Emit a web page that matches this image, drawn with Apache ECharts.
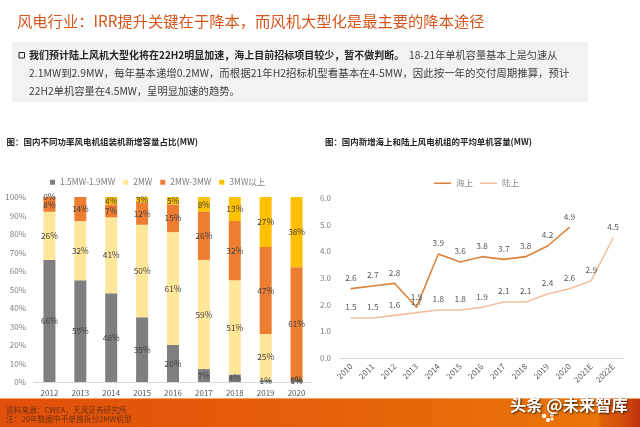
<!DOCTYPE html>
<html>
<head>
<meta charset="utf-8">
<style>html,body{margin:0;padding:0;background:#fff}#c{width:640px;height:427px}</style>
<script src="https://cdn.jsdelivr.net/npm/echarts@6/dist/echarts.min.js"></script>
</head>
<body>
<div id="c"></div>
<script>
// Installed capacity share by turbine class, percent
const shareYears = ['2012','2013','2014','2015','2016','2017','2018','2019','2020'];
const shareLabels = ['1.5MW-1.9MW','2MW','2MW-3MW','3MW以上'];
const class15to19 = [66,55,48,35,20,7,4,1,1];
const class2 = [26,32,41,50,61,59,51,25,0];
const class2to3 = [8,14,7,12,15,26,32,47,61];
const class3plus = [0,0,4,3,5,8,13,27,38];

// Average unit capacity, MW
const unitYears = ['2010','2011','2012','2013','2014','2015','2016','2017','2018','2019','2020','2021E','2022E'];
const offshore = [2.6,2.7,2.8,1.9,3.9,3.6,3.8,3.7,3.8,4.2,4.9,null,null];
const onshore = [1.5,1.5,1.6,1.7,1.8,1.8,1.9,2.1,2.1,2.4,2.6,2.9,4.5];

const headline = '风电行业：IRR提升关键在于降本，而风机大型化是最主要的降本途径';
const bodyLead = '我们预计陆上风机大型化将在22H2明显加速，海上目前招标项目较少，暂不做判断。';
const bodyLines = ['18-21年单机容量基本上是匀速从','2.1MW到2.9MW，每年基本递增0.2MW，而根据21年H2招标机型看基本在4-5MW，因此按一年的交付周期推算，预计','22H2单机容量在4.5MW，呈明显加速的趋势。'];
const leftTitle = '图：国内不同功率风电机组装机新增容量占比(MW)';
const rightTitle = '图：国内新增海上和陆上风电机组的平均单机容量(MW)';
const sourceNote = '资料来源：CWEA，天风证券研究所';
const footNote = '注：20年数据中不单独拆分2MW机型';
const watermark = '头条 @未来智库';

const FONT = '"Noto Sans CJK SC","Noto Sans",sans-serif';
const chart = echarts.init(document.getElementById('c'), null, {renderer:'canvas'});

const stacked = (name, data, color) => ({
  name, data, type:'bar', stack:'share', xAxisIndex:0, yAxisIndex:0, barWidth:12,
  itemStyle:{color},
  label:{show:true, position:'inside', formatter:'{c}%', fontSize:8.3, color:'#404040', fontFamily:FONT},
  z:3
});
const line = (name, data, color) => ({
  name, data, type:'line', xAxisIndex:1, yAxisIndex:1, symbol:'circle', symbolSize:1, showSymbol:true,
  lineStyle:{color, width:1.6}, itemStyle:{color},
  label:{show:true, position:'top', distance:6, fontSize:8.3, color:'#595959', fontFamily:FONT,
         formatter:p => p.value.toFixed(1)},
  emphasis:{disabled:true}
});
const plain = (x, y, text, size, color, weight) => ({
  type:'text', x, y, silent:true,
  style:{text, fontSize:size, fill:color, fontFamily:FONT, fontWeight:weight||'normal', textVerticalAlign:'middle'}
});

chart.setOption({
  animation:false,
  backgroundColor:'#fff',
  textStyle:{fontFamily:FONT},
  grid:[
    {left:34, top:197, width:278, height:185},
    {left:340, top:198, width:284, height:160}
  ],
  legend:[
    {data:shareLabels, left:45, top:173, itemWidth:5, itemHeight:5, itemGap:8, icon:'rect',
     textStyle:{fontSize:8.5, color:'#7f7f7f'}},
    {data:['海上','陆上'], left:429, top:174, itemWidth:17, itemHeight:1.6, itemGap:7, icon:'rect',
     textStyle:{fontSize:8.5, color:'#8c8c8c'}}
  ],
  xAxis:[
    {type:'category', gridIndex:0, data:shareYears,
     axisLine:{lineStyle:{color:'#d9d9d9'}}, axisTick:{show:false},
     axisLabel:{fontSize:8, color:'#595959', margin:7}},
    {type:'category', gridIndex:1, data:unitYears,
     axisLine:{lineStyle:{color:'#d9d9d9'}}, axisTick:{show:false},
     axisLabel:{fontSize:8, color:'#595959', rotate:45, margin:7, interval:0}}
  ],
  yAxis:[
    {type:'value', gridIndex:0, min:0, max:100, interval:10,
     axisLine:{show:false}, axisTick:{show:false}, splitLine:{show:false},
     axisLabel:{fontSize:8, color:'#7f7f7f', margin:8, formatter:'{value}%'}},
    {type:'value', gridIndex:1, min:0, max:6, interval:1,
     axisLine:{show:false}, axisTick:{show:false}, splitLine:{show:false},
     axisLabel:{fontSize:8, color:'#7f7f7f', margin:9, formatter:v => v.toFixed(1)}}
  ],
  series:[
    stacked(shareLabels[0], class15to19, '#7f7f7f'),
    stacked(shareLabels[1], class2, '#ffe699'),
    stacked(shareLabels[2], class2to3, '#ed7d31'),
    stacked(shareLabels[3], class3plus, '#ffc000'),
    line('海上', offshore, '#d9833f'),
    line('陆上', onshore, '#f3c0a0')
  ],
  graphic:[
    // Header copy
    plain(17, 21, headline, 15.3, '#d4561c'),
    {type:'rect', silent:true, shape:{x:12, y:42, width:576, height:60}, style:{fill:'#f2f2f2'}},
    {type:'rect', silent:true, shape:{x:19, y:52.5, width:5.5, height:5.5}, style:{fill:'none', stroke:'#222', lineWidth:1}},
    plain(29, 55, bodyLead, 10, '#262626', 'bold'),
    plain(409, 55, bodyLines[0], 10.2, '#404040'),
    plain(29, 73, bodyLines[1], 10.45, '#404040'),
    plain(29, 91, bodyLines[2], 10.3, '#404040'),
    plain(6.5, 142, leftTitle, 8.5, '#262626', 'bold'),
    plain(325, 142, rightTitle, 8.45, '#262626', 'bold'),
    // Footer band
    {type:'rect', silent:true, shape:{x:0, y:398, width:640, height:29},
     style:{fill:new echarts.graphic.LinearGradient(0,0,1,0,[
       {offset:0,color:'#e24f0c'},{offset:0.5,color:'#e5600a'},{offset:0.935,color:'#ea7507'},{offset:0.94,color:'#dd5f0a'},{offset:0.97,color:'#d5500c'},{offset:1,color:'#c0300f'}])}},
    {type:'rect', silent:true, shape:{x:0, y:398, width:640, height:1}, style:{fill:'#f2a468'}},
    plain(6, 410, sourceNote, 7.7, '#6b3410'),
    plain(6, 419, footNote, 7.7, '#6b3410'),
    {type:'circle', silent:true, shape:{cx:544, cy:416, r:2.2}, style:{fill:'#fff'}},
    {type:'circle', silent:true, shape:{cx:548, cy:420, r:2}, style:{fill:'#fff'}},
    {type:'circle', silent:true, shape:{cx:552, cy:415, r:1.8}, style:{fill:'#fff'}},
    {type:'circle', silent:true, shape:{cx:552, cy:419, r:1.6}, style:{fill:'#fff'}},
    {type:'text', x:510, y:405, silent:true, z:100,
     style:{text:watermark, fontSize:16.3, fill:'#fff', fontFamily:FONT, fontWeight:'bold',
       textVerticalAlign:'middle', textShadowColor:'rgba(0,0,0,.75)', textShadowBlur:2, textShadowOffsetX:1, textShadowOffsetY:1}}
  ]
});
</script>
</body>
</html>
